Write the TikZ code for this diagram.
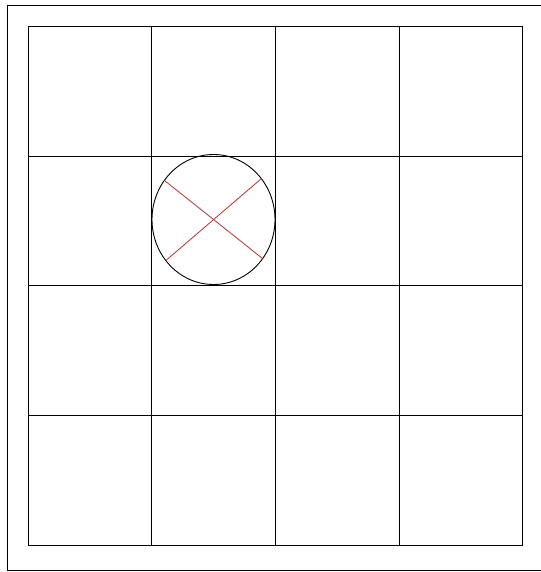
\documentclass[tikz,border=0pt]{standalone}
\begin{document}
\begin{tikzpicture}[x=0.5pt,y=-0.5pt,
  gridline/.style={draw=black,line width=0.5pt},
  frameline/.style={draw=black,line width=0.5pt},
  crossline/.style={draw={rgb,255:red,180;green,50;blue,50},line width=0.4pt}]
\useasboundingbox (0,0) rectangle (540,572);
\draw[frameline] (542,5.5) -- (7.5,5.5) -- (7.5,570.5) -- (542,570.5);
\foreach \x in {28.5,151.5,275.5,399.5,522.5}
  \draw[gridline] (\x,26.5) -- (\x,545.5);
\foreach \y in {26.5,156.5,285.5,415.5,545.5}
  \draw[gridline] (28.5,\y) -- (522.5,\y);
\coordinate (c) at (213.5,219.5);
\draw[black,line width=0.45pt] (c) ellipse [x radius=61.5,y radius=65];
\coordinate (p1) at (164.5,180.5);
\coordinate (p2) at (262.5,258.5);
\coordinate (p3) at (166.5,260);
\coordinate (p4) at (261.5,178.5);
\draw[crossline] (p1) -- (p2);
\draw[crossline] (p3) -- (p4);
\end{tikzpicture}
\end{document}
